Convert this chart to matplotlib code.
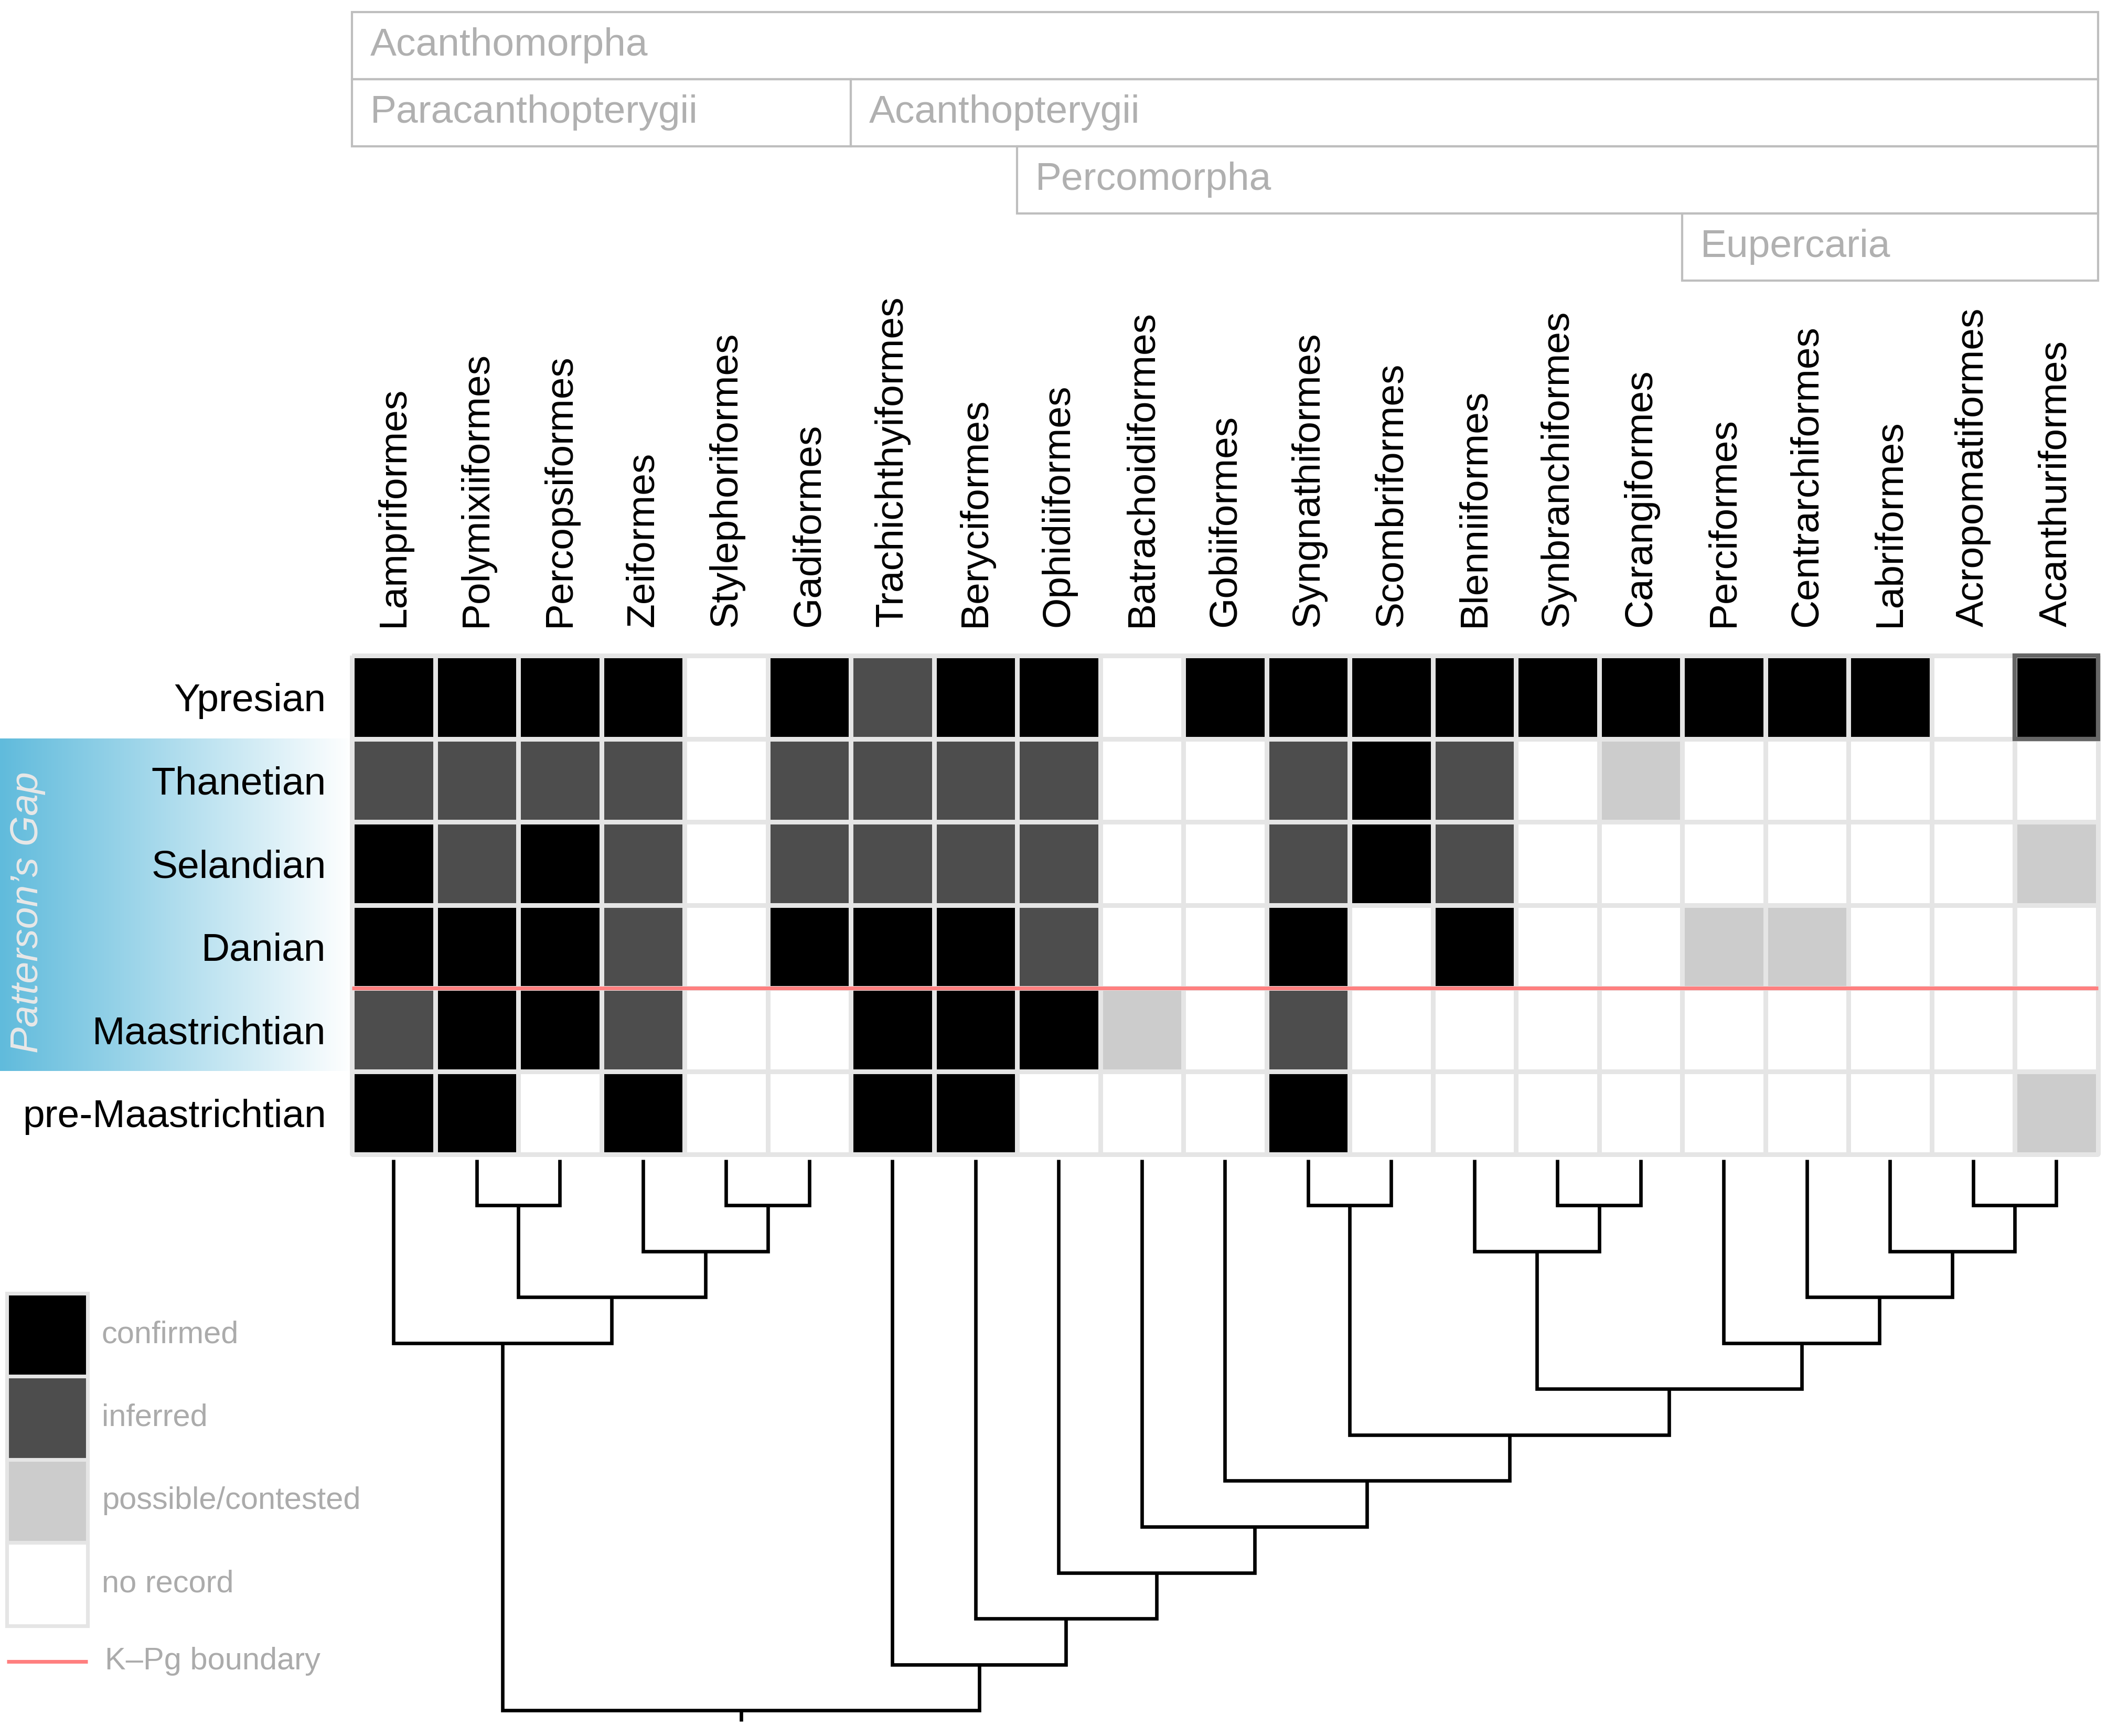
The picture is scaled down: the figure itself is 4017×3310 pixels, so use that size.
import matplotlib
matplotlib.use("Agg")
import matplotlib.pyplot as plt
import numpy as np
from matplotlib.colors import ListedColormap, LinearSegmentedColormap
from matplotlib.patches import Rectangle

plt.rcParams['font.family'] = ['Liberation Sans', 'DejaVu Sans']

orders = ["Lampriformes", "Polymixiiformes", "Percopsiformes", "Zeiformes",
          "Stylephoriformes", "Gadiformes", "Trachichthyiformes", "Beryciformes",
          "Ophidiiformes", "Batrachoidiformes", "Gobiiformes", "Syngnathiformes",
          "Scombriformes", "Blenniiformes", "Synbranchiformes", "Carangiformes",
          "Perciformes", "Centrarchiformes", "Labriformes", "Acropomatiformes",
          "Acanthuriformes"]
stages = ["Ypresian", "Thanetian", "Selandian", "Danian", "Maastrichtian",
          "pre-Maastrichtian"]

# 3 = confirmed, 2 = inferred, 1 = possible/contested, 0 = no record
ypresian      = [3, 3, 3, 3, 0, 3, 2, 3, 3, 0, 3, 3, 3, 3, 3, 3, 3, 3, 3, 0, 3]
thanetian     = [2, 2, 2, 2, 0, 2, 2, 2, 2, 0, 0, 2, 3, 2, 0, 1, 0, 0, 0, 0, 0]
selandian     = [3, 2, 3, 2, 0, 2, 2, 2, 2, 0, 0, 2, 3, 2, 0, 0, 0, 0, 0, 0, 1]
danian        = [3, 3, 3, 2, 0, 3, 3, 3, 2, 0, 0, 3, 0, 3, 0, 0, 1, 1, 0, 0, 0]
maastrichtian = [2, 3, 3, 2, 0, 0, 3, 3, 3, 1, 0, 2, 0, 0, 0, 0, 0, 0, 0, 0, 0]
pre_maas      = [3, 3, 0, 3, 0, 0, 3, 3, 0, 0, 0, 3, 0, 0, 0, 0, 0, 0, 0, 0, 1]
record = np.array([ypresian, thanetian, selandian, danian, maastrichtian, pre_maas])

status_labels = ["no record", "possible/contested", "inferred", "confirmed"]
status_colors = ["#FFFFFF", "#CCCCCC", "#4D4D4D", "#000000"]

# clade name, first order, last order, box row
clades = [("Acanthomorpha", "Lampriformes", "Acanthuriformes", 0),
          ("Paracanthopterygii", "Lampriformes", "Gadiformes", 1),
          ("Acanthopterygii", "Trachichthyiformes", "Acanthuriformes", 1),
          ("Percomorpha", "Ophidiiformes", "Acanthuriformes", 2),
          ("Eupercaria", "Perciformes", "Acanthuriformes", 3)]

# tree nodes: (node level, child, child)
paracanth = (4, "Lampriformes",
             (3, (1, "Polymixiiformes", "Percopsiformes"),
              (2, "Zeiformes", (1, "Stylephoriformes", "Gadiformes"))))
eupercaria = (4, "Perciformes",
              (3, "Centrarchiformes",
               (2, "Labriformes", (1, "Acropomatiformes", "Acanthuriformes"))))
blenn = (2, "Blenniiformes", (1, "Synbranchiformes", "Carangiformes"))
percomorpha = (9, "Ophidiiformes",
               (8, "Batrachoidiformes",
                (7, "Gobiiformes",
                 (6, (1, "Syngnathiformes", "Scombriformes"),
                  (5, blenn, eupercaria)))))
acanthopt = (11, "Trachichthyiformes", (10, "Beryciformes", percomorpha))
tree = (12, paracanth, acanthopt)

highlight = ("Ypresian", "Acanthuriformes")
kpg_below = "Danian"
gap_first, gap_last = "Thanetian", "Maastrichtian"

# layout (pixels)
W, H, DPI = 4017, 3310, 300
cell = 158.5
x0_px, y0_px = 671, 1250
grid_col = "#E5E5E5"
light_txt = "#ABABAB"
fs = 18

fig = plt.figure(figsize=(W / DPI, H / DPI), dpi=DPI)
ax = fig.add_axes([0, 0, 1, 1])
xmin, xmax = -x0_px / cell, (W - x0_px) / cell
ymax, ymin = (H - y0_px) / cell, -y0_px / cell

# Patterson's gap band
r0, r1 = stages.index(gap_first), stages.index(gap_last) + 1
grad = LinearSegmentedColormap.from_list("gap", ["#60BBDC", "#FFFFFF"])
ax.imshow(np.linspace(0, 1, 256)[None, :], cmap=grad, aspect='auto',
          extent=(xmin, 0, r1, r0), zorder=0)
ax.text(xmin + 0.33, (r0 + r1) / 2 + 0.09, "Patterson\u2019s Gap", rotation=90,
        ha='center', va='center', fontsize=fs, style='italic',
        color='#E8E8E8', zorder=1)

# heatmap
cmap = ListedColormap(status_colors)
ax.pcolormesh(np.arange(len(orders) + 1), np.arange(len(stages) + 1), record,
              cmap=cmap, vmin=-0.5, vmax=3.5, edgecolors=grid_col,
              linewidth=1.7, zorder=2)
hr, hc = stages.index(highlight[0]), orders.index(highlight[1])
ax.add_patch(Rectangle((hc, hr), 1, 1, fill=False, edgecolor='#666666',
                       lw=2.0, zorder=3))
kpg_y = stages.index(kpg_below) + 1
ax.plot([0, len(orders)], [kpg_y, kpg_y], color='#FF7F7F', lw=1.7, zorder=4,
        solid_capstyle='butt')

for j, s in enumerate(stages):
    ax.text(-0.31, j + 0.67, s, ha='right', va='baseline', fontsize=fs,
            color='black')
for i, o in enumerate(orders):
    ax.text(i + 0.5, -0.35, o, rotation=90, ha='center', va='bottom',
            fontsize=fs, color='black')

# clade boxes
box_top, box_h = -7.744, 0.808
for name, first, last, row in clades:
    a, b = orders.index(first), orders.index(last) + 1
    top = box_top + row * box_h
    ax.add_patch(Rectangle((a, top), b - a, box_h, fill=False,
                           edgecolor='#BEBEBE', lw=1.0, zorder=2))
    ax.text(a + 0.22, top + box_h / 2, name, ha='left', va='center',
            fontsize=fs, color='#B0B0B0')

# tree
leaf_y, step = 6.06, 0.5524


def level_y(h):
    return leaf_y + h * step


def draw(node):
    if isinstance(node, str):
        return orders.index(node) + 0.5, 0
    h, a, b = node
    xa, ha = draw(a)
    xb, hb = draw(b)
    ax.plot([xa, xa, xb, xb], [level_y(ha), level_y(h), level_y(h), level_y(hb)],
            color='black', lw=1.6, solid_joinstyle='miter',
            solid_capstyle='butt', zorder=2)
    return (xa + xb) / 2, h


rx, rh = draw(tree)
ax.plot([rx, rx], [level_y(rh), level_y(rh) + 0.13], color='black', lw=1.6,
        solid_capstyle='butt')

# legend
lx, ly = -4.15, 7.67
for k, (lab, col) in enumerate(zip(status_labels[::-1], status_colors[::-1])):
    ax.add_patch(Rectangle((lx, ly + k), 0.97, 1, facecolor=col,
                           edgecolor=grid_col, lw=1.7, zorder=2))
    ax.text(lx + 1.14, ly + k + 0.5, lab, ha='left', va='center',
            fontsize=14.3, color=light_txt)
ky = ly + 4 + 0.43
ax.plot([lx, lx + 0.97], [ky, ky], color='#FF7F7F', lw=1.7, solid_capstyle='butt')
ax.text(lx + 1.18, ky, "K\u2013Pg boundary", ha='left', va='center',
        fontsize=14.3, color=light_txt)

ax.set_xlim(xmin, xmax)
ax.set_ylim(ymax, ymin)
ax.axis('off')
fig.savefig("out.png", dpi=DPI)
